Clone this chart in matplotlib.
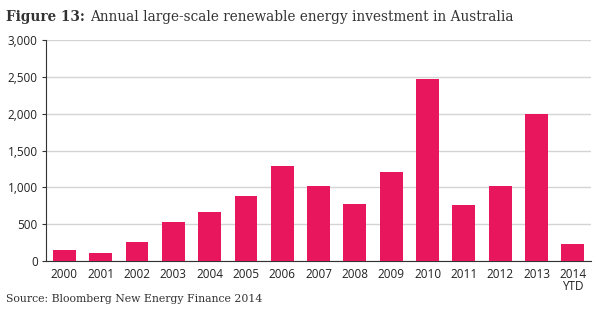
import matplotlib
matplotlib.use("Agg")

import matplotlib.pyplot as plt
from matplotlib.ticker import FuncFormatter

# Data (US$ m)
years = ["2000", "2001", "2002", "2003", "2004", "2005", "2006", "2007",
         "2008", "2009", "2010", "2011", "2012", "2013", "2014\nYTD"]
investment = [150, 110, 255, 530, 665, 880, 1285, 1020,
              780, 1215, 2470, 760, 1020, 2000, 235]

bar_color = "#E8175D"

fig = plt.figure(figsize=(6, 3.21), dpi=100)
ax = fig.add_axes([0.077, 0.187, 0.908, 0.688])

x = range(len(years))
ax.bar(x, investment, width=0.63, color=bar_color, zorder=3)

ax.set_xlim(-0.5, len(years) - 0.5)
ax.set_ylim(0, 3000)
ax.set_yticks(range(0, 3001, 500))
ax.yaxis.set_major_formatter(FuncFormatter(lambda v, p: f"{int(v):,}"))
ax.set_xticks(list(x))
ax.set_xticklabels(years, fontsize=8.5, family="Open Sans", color="#222222",
                   linespacing=0.95)
for lab in ax.get_yticklabels():
    lab.set_family("Open Sans")
    lab.set_fontsize(8.5)
    lab.set_color("#222222")

ax.grid(axis="y", color="#d4d4d4", linewidth=1, zorder=0)
for s in ["top", "right"]:
    ax.spines[s].set_visible(False)
ax.spines["left"].set_color("#333333")
ax.spines["bottom"].set_color("#333333")
ax.tick_params(axis="y", length=3, width=0.8, color="#333333", pad=3)
ax.tick_params(axis="x", length=0, pad=5)

# title: bold prefix followed by regular text
t1 = fig.text(0.01, 0.968, "Figure 13:", fontsize=9.8, fontweight="bold",
              family="DejaVu Serif", color="#333333", va="top")
fig.canvas.draw()
bb = t1.get_window_extent().transformed(fig.transFigure.inverted())
fig.text(bb.x1 + 0.008, 0.968, "Annual large-scale renewable energy investment in Australia",
         fontsize=9.8, family="DejaVu Serif", color="#333333", va="top")
fig.text(0.01, 0.068, "Source: Bloomberg New Energy Finance 2014",
         fontsize=7.8, family="DejaVu Serif", color="#333333", va="center")

fig.savefig("out.png", dpi=100)
